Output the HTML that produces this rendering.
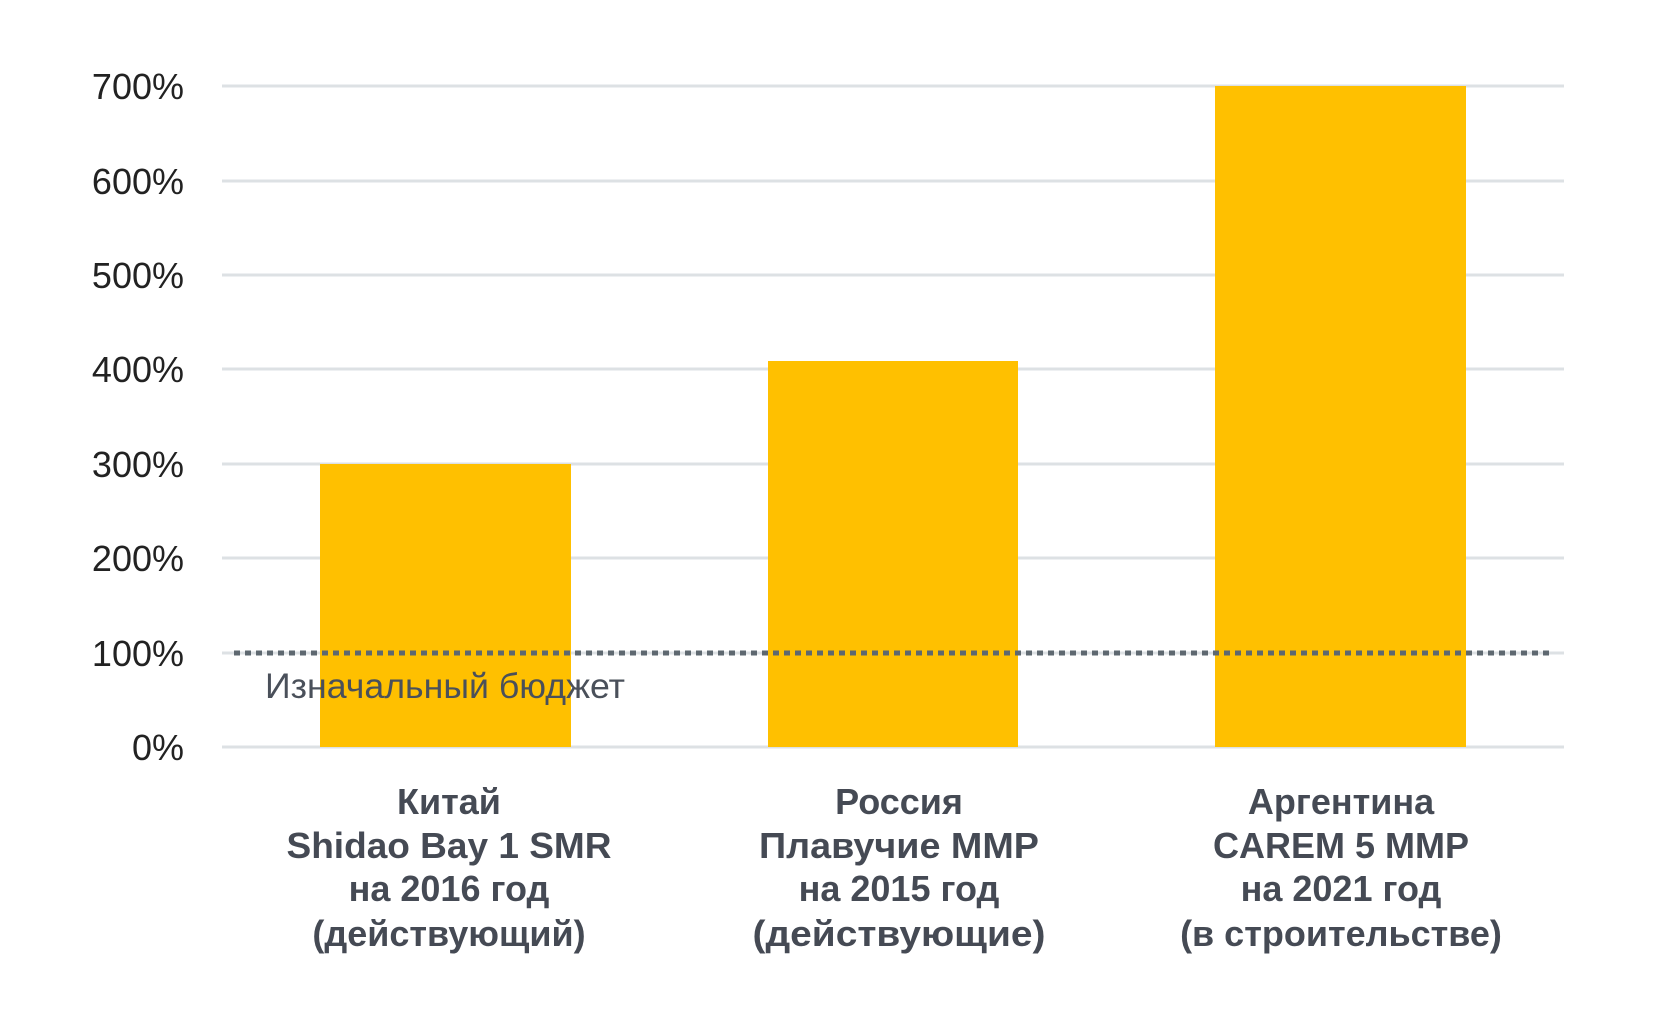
<!DOCTYPE html>
<html><head><meta charset="utf-8"><style>
html,body{margin:0;padding:0;background:#fff;}
svg{display:block;}
</style></head><body>
<svg width="1668" height="1020" xmlns="http://www.w3.org/2000/svg">
<g stroke="#dde1e4" stroke-width="3">
<line x1="222" x2="1564" y1="86" y2="86"/>
<line x1="222" x2="1564" y1="181" y2="181"/>
<line x1="222" x2="1564" y1="275" y2="275"/>
<line x1="222" x2="1564" y1="369" y2="369"/>
<line x1="222" x2="1564" y1="464" y2="464"/>
<line x1="222" x2="1564" y1="558" y2="558"/>
<line x1="222" x2="1564" y1="653" y2="653"/>
<line x1="222" x2="1564" y1="747" y2="747"/>
</g>
<g fill="#ffc000">
<rect x="320" y="464" width="251" height="283"/>
<rect x="768" y="361" width="250" height="386"/>
<rect x="1215" y="86" width="251" height="661"/>
</g>
<line x1="234" x2="1551" y1="653" y2="653" stroke="#5e6870" stroke-width="5" stroke-dasharray="6,5"/>
<g font-family="Liberation Sans, sans-serif" font-size="36" fill="#222" text-anchor="end">
<text x="184" y="99">700%</text>
<text x="184" y="194">600%</text>
<text x="184" y="288">500%</text>
<text x="184" y="382">400%</text>
<text x="184" y="477">300%</text>
<text x="184" y="571">200%</text>
<text x="184" y="666">100%</text>
<text x="184" y="760">0%</text>
</g>
<text x="265" y="698" font-family="Liberation Sans, sans-serif" font-size="35" fill="#4a505a" textLength="360" lengthAdjust="spacingAndGlyphs">Изначальный бюджет</text>
<g font-family="Liberation Sans, sans-serif" font-size="36" font-weight="bold" fill="#454a54" text-anchor="middle">
<text x="449" y="814">Китай</text>
<text x="449" y="858" textLength="325" lengthAdjust="spacingAndGlyphs">Shidao Bay 1 SMR</text>
<text x="449" y="901">на 2016 год</text>
<text x="449" y="946">(действующий)</text>
<text x="899" y="814">Россия</text>
<text x="899" y="858" textLength="280" lengthAdjust="spacingAndGlyphs">Плавучие ММР</text>
<text x="899" y="901">на 2015 год</text>
<text x="899" y="946" textLength="293" lengthAdjust="spacingAndGlyphs">(действующие)</text>
<text x="1341" y="814">Аргентина</text>
<text x="1341" y="858">CAREM 5 ММР</text>
<text x="1341" y="901">на 2021 год</text>
<text x="1341" y="946">(в строительстве)</text>
</g>
</svg>
</body></html>
